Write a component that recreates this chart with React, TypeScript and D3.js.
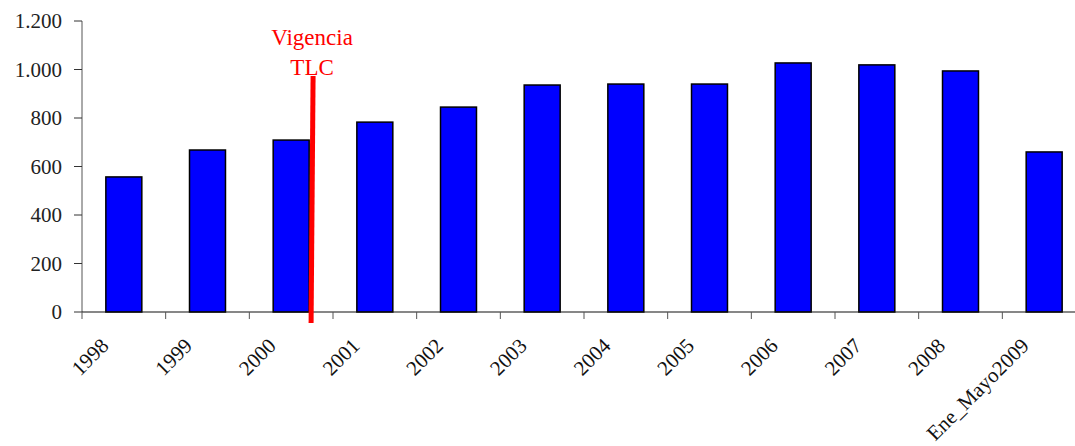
import * as d3 from "d3";
import React, { useEffect, useRef } from "react";

const categories = ["1998", "1999", "2000", "2001", "2002", "2003", "2004", "2005", "2006", "2007", "2008", "Ene_Mayo2009"];
const values = [557, 668, 709, 783, 845, 936, 940, 940, 1027, 1019, 994, 660];
const yTicks = [0, 200, 400, 600, 800, 1000, 1200];
const markerAfter = "2000"; // línea de vigencia del TLC
const markerLabel = ["Vigencia", "TLC"];

const W = 1075;
const H = 446;

export default function App() {
  const ref = useRef<SVGSVGElement>(null);

  useEffect(() => {
    const svg = d3.select(ref.current);
    svg.selectAll("*").remove();

    const left = 82;
    const bottom = 312;
    const font = "'Liberation Serif', 'DejaVu Serif', serif";

    const x = d3.scaleBand().domain(categories).range([left, 1086]).paddingInner(0.57).paddingOuter(0.285);
    const y = d3.scaleLinear().domain([0, 1200]).range([bottom, 21]);
    const step = x.step();
    const fmt = d3.formatLocale({ decimal: ",", thousands: ".", grouping: [3], currency: ["", ""] }).format(",d");

    // eje y
    svg.append("line")
      .attr("x1", left).attr("x2", left)
      .attr("y1", y(1200)).attr("y2", bottom)
      .attr("stroke", "#555").attr("stroke-width", 1);

    const yt = svg.append("g").selectAll("g").data(yTicks).enter().append("g");
    yt.append("line")
      .attr("x1", left - 8).attr("x2", left)
      .attr("y1", (d) => y(d)).attr("y2", (d) => y(d))
      .attr("stroke", "#333");
    yt.append("text")
      .attr("x", left - 20).attr("y", (d) => y(d))
      .attr("dy", "0.35em")
      .attr("text-anchor", "end")
      .style("font-family", font).style("font-size", "21px").attr("fill", "#222")
      .text((d) => fmt(d));

    // barras
    svg.append("g").selectAll("rect").data(values).enter().append("rect")
      .attr("x", (d, i) => x(categories[i])!)
      .attr("y", (d) => y(d))
      .attr("width", x.bandwidth())
      .attr("height", (d) => bottom - y(d))
      .attr("fill", "#0000FF")
      .attr("stroke", "#000")
      .attr("stroke-width", 1.5);

    // eje x
    svg.append("line")
      .attr("x1", left).attr("x2", W)
      .attr("y1", bottom).attr("y2", bottom)
      .attr("stroke", "#111").attr("stroke-width", 1.2);

    svg.append("g").selectAll("line").data(d3.range(categories.length + 1)).enter().append("line")
      .attr("x1", (i) => left + i * step).attr("x2", (i) => left + i * step)
      .attr("y1", bottom).attr("y2", bottom + 7)
      .attr("stroke", "#555");

    svg.append("g").selectAll("text").data(categories).enter().append("text")
      .attr("transform", (d) => `translate(${x(d)! + x.bandwidth() / 2 - 14}, ${bottom + 35}) rotate(-45)`)
      .attr("text-anchor", "end")
      .style("font-family", font).style("font-size", "21px").attr("fill", "#111")
      .text((d) => d);

    // línea roja
    const mx = x(markerAfter)! - step * 0.285 + step * 0.75;
    svg.append("line")
      .attr("x1", mx - 1).attr("x2", mx + 1)
      .attr("y1", bottom + 11).attr("y2", 76)
      .attr("stroke", "#FF0000").attr("stroke-width", 5);

    svg.append("g").selectAll("text").data(markerLabel).enter().append("text")
      .attr("x", mx).attr("y", (d, i) => 45 + i * 30)
      .attr("text-anchor", "middle")
      .style("font-family", font).style("font-size", "23px").attr("fill", "#FF0000")
      .text((d) => d);
  }, []);

  return (
    <svg ref={ref} width={W} height={H} style={{ position: "absolute", left: 0, top: 0, background: "#fff" }}></svg>
  );
}
